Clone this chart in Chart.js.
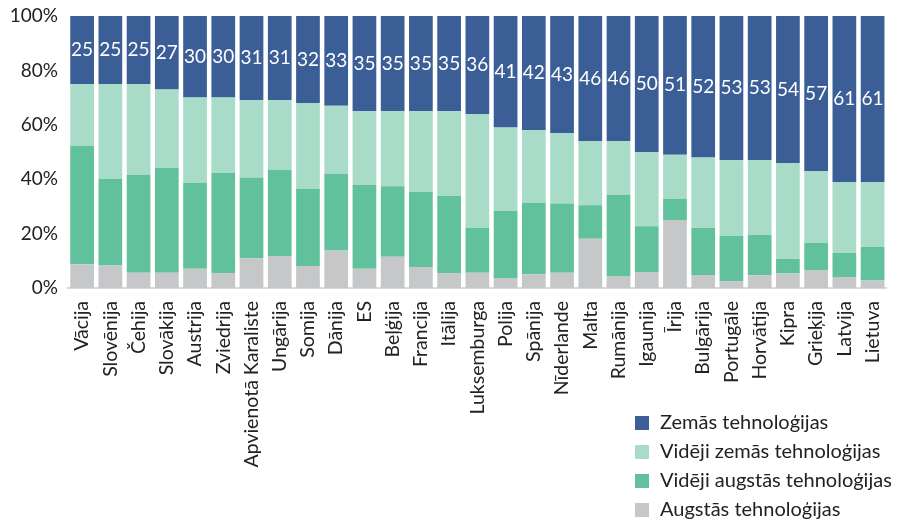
<!DOCTYPE html>
<html>
<head>
<meta charset="utf-8">
<script src="https://cdn.jsdelivr.net/npm/chart.js@4"></script>
<style>
  body { margin: 0; background: #fff; }
  #wrap { position: relative; width: 901px; height: 521px; }
  #legend { position: absolute; left: 635px; top: 407px; font-family: Lato, sans-serif; font-size: 20px; color: #222; }
  #legend div { height: 29px; line-height: 29px; white-space: nowrap; }
  #legend span { display: inline-block; width: 14px; height: 14px; margin-right: 11px; vertical-align: -1px; }
</style>
</head>
<body>
<div id="wrap">
  <canvas id="chart" width="901" height="521"></canvas>
  <div id="legend"></div>
</div>
<script>
const countries = ["Vācija", "Slovēnija", "Čehija", "Slovākija", "Austrija", "Zviedrija", "Apvienotā Karaliste", "Ungārija", "Somija", "Dānija", "ES", "Beļģija", "Francija", "Itālija", "Luksemburga", "Polija", "Spānija", "Nīderlande", "Malta", "Rumānija", "Igaunija", "Īrija", "Bulgārija", "Portugāle", "Horvātija", "Kipra", "Grieķija", "Latvija", "Lietuva"];

const high = [8.7, 8.3, 5.6, 5.6, 7.1, 5.5, 10.9, 11.8, 8.1, 13.8, 7.1, 11.5, 7.7, 5.5, 5.6, 3.7, 5.1, 5.6, 18.1, 4.4, 5.9, 25.0, 4.8, 2.6, 4.7, 5.3, 6.6, 4.0, 2.8];
const midHigh = [43.6, 31.8, 35.9, 38.5, 31.5, 36.8, 29.7, 31.7, 28.4, 28.1, 30.9, 25.9, 27.6, 28.3, 16.5, 24.6, 26.2, 25.5, 12.3, 29.8, 16.8, 7.7, 17.3, 16.5, 14.8, 5.4, 9.9, 8.9, 12.3];
const midLow = [22.7, 34.9, 33.5, 28.9, 31.4, 27.7, 28.4, 25.5, 31.5, 25.1, 27.0, 27.6, 29.7, 31.2, 41.9, 30.7, 26.7, 25.9, 23.6, 19.8, 27.3, 16.3, 25.9, 27.9, 27.5, 35.3, 26.5, 26.1, 23.9];
const low = [25, 25, 25, 27, 30, 30, 31, 31, 32, 33, 35, 35, 35, 35, 36, 41, 42, 43, 46, 46, 50, 51, 52, 53, 53, 54, 57, 61, 61];

const yTicks = [0, 20, 40, 60, 80, 100];

const FONT = "Lato, sans-serif";

// white value labels in the middle of the dark blue segments
const lowLabels = {
  id: "lowLabels",
  afterDatasetsDraw(chart) {
    const ctx = chart.ctx;
    const meta = chart.getDatasetMeta(3);
    ctx.save();
    ctx.fillStyle = "#fff";
    ctx.font = "19px " + FONT;
    ctx.textAlign = "center";
    ctx.textBaseline = "middle";
    meta.data.forEach((bar, i) => {
      ctx.fillText(Math.round(low[i]), bar.x, (bar.y + bar.base) / 2);
    });
    ctx.restore();
  },
};

const chart = new Chart(document.getElementById("chart"), {
  type: "bar",
  data: {
    labels: countries,
    datasets: [
      { label: "Augstās tehnoloģijas", data: high, backgroundColor: "#c6c7c9" },
      { label: "Vidēji augstās tehnoloģijas", data: midHigh, backgroundColor: "#61c19c" },
      { label: "Vidēji zemās tehnoloģijas", data: midLow, backgroundColor: "#a8dcc8" },
      { label: "Zemās tehnoloģijas", data: low, backgroundColor: "#3b5e96" },
    ],
  },
  options: {
    responsive: false,
    animation: false,
    events: [],
    layout: { padding: { top: 16, right: 0, left: 0, bottom: 0 } },
    datasets: { bar: { barPercentage: 0.84, categoryPercentage: 1 } },
    plugins: { legend: { display: false }, tooltip: { enabled: false } },
    scales: {
      x: {
        stacked: true,
        grid: { display: false },
        border: { display: true, color: "#d9d9d9", width: 2 },
        ticks: { color: "#222", font: { family: FONT, size: 19.5 }, minRotation: 90, maxRotation: 90, autoSkip: false, padding: 5 },
        afterFit: (s) => { s.height = 233; },
      },
      y: {
        stacked: true,
        min: 0,
        max: 100,
        grid: { display: false, drawTicks: false },
        border: { display: false },
        afterBuildTicks: (s) => { s.ticks = yTicks.map((v) => ({ value: v })); },
        ticks: { color: "#222", font: { family: FONT, size: 19 }, padding: 10, callback: (v) => v + "%" },
        afterFit: (s) => { s.width = 68; s.paddingTop = 0; s.paddingBottom = 0; },
      },
    },
  },
  plugins: [lowLabels],
});

// legend, top to bottom in reverse stacking order
const legend = document.getElementById("legend");
chart.data.datasets.slice().reverse().forEach((ds) => {
  legend.innerHTML += `<div><span style="background:${ds.backgroundColor}"></span>${ds.label}</div>`;
});
</script>
</body>
</html>
